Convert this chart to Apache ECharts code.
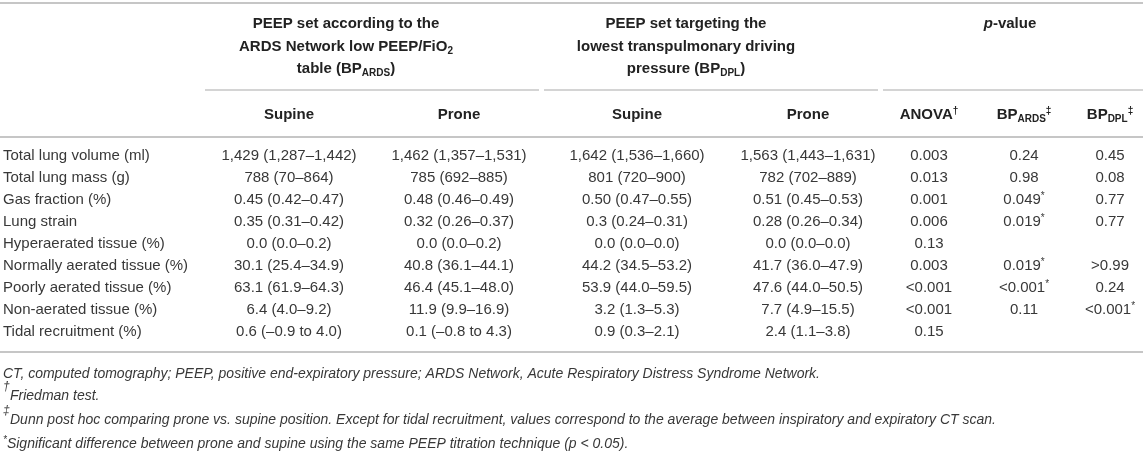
<!DOCTYPE html>
<html>
<head>
<meta charset="utf-8">
<script src="https://cdn.jsdelivr.net/npm/echarts@6/dist/echarts.min.js"></script>
<style>
html, body { margin: 0; padding: 0; background: #fff; }
#table { width: 1143px; height: 471px; }
</style>
</head>
<body>
<div id="table"></div>
<script>
// table content
var rowLabels = ['Total lung volume (ml)', 'Total lung mass (g)', 'Gas fraction (%)', 'Lung strain',
    'Hyperaerated tissue (%)', 'Normally aerated tissue (%)', 'Poorly aerated tissue (%)',
    'Non-aerated tissue (%)', 'Tidal recruitment (%)'];
var supineArds = ['1,429 (1,287–1,442)', '788 (70–864)', '0.45 (0.42–0.47)', '0.35 (0.31–0.42)',
    '0.0 (0.0–0.2)', '30.1 (25.4–34.9)', '63.1 (61.9–64.3)', '6.4 (4.0–9.2)', '0.6 (–0.9 to 4.0)'];
var proneArds = ['1,462 (1,357–1,531)', '785 (692–885)', '0.48 (0.46–0.49)', '0.32 (0.26–0.37)',
    '0.0 (0.0–0.2)', '40.8 (36.1–44.1)', '46.4 (45.1–48.0)', '11.9 (9.9–16.9)', '0.1 (–0.8 to 4.3)'];
var supineDpl = ['1,642 (1,536–1,660)', '801 (720–900)', '0.50 (0.47–0.55)', '0.3 (0.24–0.31)',
    '0.0 (0.0–0.0)', '44.2 (34.5–53.2)', '53.9 (44.0–59.5)', '3.2 (1.3–5.3)', '0.9 (0.3–2.1)'];
var proneDpl = ['1,563 (1,443–1,631)', '782 (702–889)', '0.51 (0.45–0.53)', '0.28 (0.26–0.34)',
    '0.0 (0.0–0.0)', '41.7 (36.0–47.9)', '47.6 (44.0–50.5)', '7.7 (4.9–15.5)', '2.4 (1.1–3.8)'];
var pAnova = ['0.003', '0.013', '0.001', '0.006', '0.13', '0.003', '<0.001', '<0.001', '0.15'];
var pArds = ['0.24', '0.98', '0.049*', '0.019*', '', '0.019*', '<0.001*', '0.11', ''];
var pDpl = ['0.45', '0.08', '0.77', '0.77', '', '>0.99', '0.24', '<0.001*', ''];

var groupHeaders = [
    ['PEEP set according to the', 'ARDS Network low PEEP/FiO{s|2}', 'table (BP{s|ARDS})'],
    ['PEEP set targeting the', 'lowest transpulmonary driving', 'pressure (BP{s|DPL})'],
    ['{i|p}-value']
];
var subHeaders = ['Supine', 'Prone', 'Supine', 'Prone', 'ANOVA{u|†}', 'BP{s|ARDS}{u|‡}', 'BP{s|DPL}{u|‡}'];
var footnotes = [
    {mark: '', text: 'CT, computed tomography; PEEP, positive end-expiratory pressure; ARDS Network, Acute Respiratory Distress Syndrome Network.'},
    {mark: '†', text: 'Friedman test.'},
    {mark: '‡', text: 'Dunn post hoc comparing prone vs. supine position. Except for tidal recruitment, values correspond to the average between inspiratory and expiratory CT scan.'},
    {mark: '', text: '{u|*}Significant difference between prone and supine using the same PEEP titration technique (p < 0.05).'}
];

// layout
var FONT = '"Liberation Sans", Arial, Helvetica, sans-serif';
var colX = [289, 459, 637, 808, 929, 1024, 1110];
var groupX = [346, 686, 1010];
var groupLines = [[205, 539], [544, 878], [883, 1143]];
var headY = [24, 47, 69];
var subHeadY = 115;
var rowY0 = 156, rowStep = 22;
var footY = [374, 396, 420, 444];
var lineGray = '#c6c6c6';

function tok(size, weight, style, color) {
    return {fontSize: size, fontWeight: weight, fontStyle: style || 'normal',
        fontFamily: FONT, fill: color, lineHeight: size};
}

function richSet(size, weight, style, color) {
    var base = tok(size, weight, style, color); base.lineHeight = 18;
    var s = tok(10, weight, style, color); s.verticalAlign = 'bottom';
    var u = tok(10, weight, style, color); u.verticalAlign = 'top';
    var i = tok(size, weight, 'italic', color); i.lineHeight = 18;
    return {b: base, s: s, u: u, i: i};
}

function txt(x, y, text, opt) {
    opt = opt || {};
    var weight = opt.weight || 'normal';
    var fstyle = opt.italic ? 'italic' : 'normal';
    var color = opt.color || '#383838';
    var size = opt.size || 15;
    var align = opt.align || 'center';
    return {
        type: 'text',
        x: x, y: y,
        silent: true,
        style: {
            text: text.indexOf('{') >= 0 ? text : '{b|' + text + '}',
            fontSize: size, fontWeight: weight, fontStyle: fstyle, fontFamily: FONT,
            fill: color,
            align: align, verticalAlign: 'middle',
            textAlign: align, textVerticalAlign: 'middle',
            rich: richSet(size, weight, fstyle, color)
        }
    };
}

function wrapPlain(str) {
    // plain parts around {x|...} tokens get the base style
    var out = '', re = /\{[a-z]\|[^}]*\}/g, last = 0, m;
    while ((m = re.exec(str)) !== null) {
        if (m.index > last) out += '{b|' + str.slice(last, m.index) + '}';
        out += m[0];
        last = m.index + m[0].length;
    }
    if (last < str.length) out += '{b|' + str.slice(last) + '}';
    return out;
}

function pval(v) {
    if (v.charAt(v.length - 1) === '*') return '{b|' + v.slice(0, -1) + '}{u|*}';
    return '{b|' + v + '}';
}

function hline(x1, x2, y, w) {
    return {type: 'line', silent: true,
        shape: {x1: x1, y1: y, x2: x2, y2: y},
        style: {stroke: lineGray, lineWidth: w || 2}};
}

function buildElements() {
    var els = [];
    // rules
    els.push(hline(0, 1143, 3, 2));
    groupLines.forEach(function (g) { els.push(hline(g[0], g[1], 90, 1.5)); });
    els.push(hline(0, 1143, 137, 2));
    els.push(hline(0, 1143, 352, 2));

    // headers
    groupHeaders.forEach(function (lines, gi) {
        lines.forEach(function (ln, li) {
            els.push(txt(groupX[gi], headY[li], wrapPlain(ln), {weight: 'bold', color: '#222'}));
        });
    });
    subHeaders.forEach(function (h, ci) {
        els.push(txt(colX[ci], subHeadY, wrapPlain(h), {weight: 'bold', color: '#222'}));
    });

    // body
    var cols = [supineArds, proneArds, supineDpl, proneDpl, pAnova, pArds, pDpl];
    rowLabels.forEach(function (label, ri) {
        var y = rowY0 + ri * rowStep;
        els.push(txt(3, y, label, {align: 'left'}));
        cols.forEach(function (col, ci) {
            if (!col[ri]) return;
            els.push(txt(colX[ci], y, ci >= 4 ? pval(col[ri]) : col[ri]));
        });
    });

    // footnotes
    footnotes.forEach(function (f, fi) {
        var y = footY[fi];
        if (f.mark) {
            els.push(txt(3, y - 9, f.mark, {align: 'left', italic: true, size: 12}));
            els.push(txt(10, y, f.text, {align: 'left', italic: true, size: 14}));
        } else {
            els.push(txt(3, y, wrapPlain(f.text), {align: 'left', italic: true, size: 14}));
        }
    });
    return els;
}

var tableChart = echarts.init(document.getElementById('table'), null, {renderer: 'canvas'});
tableChart.setOption({
    animation: false,
    backgroundColor: '#fff',
    graphic: {elements: buildElements()}
});
</script>
</body>
</html>
